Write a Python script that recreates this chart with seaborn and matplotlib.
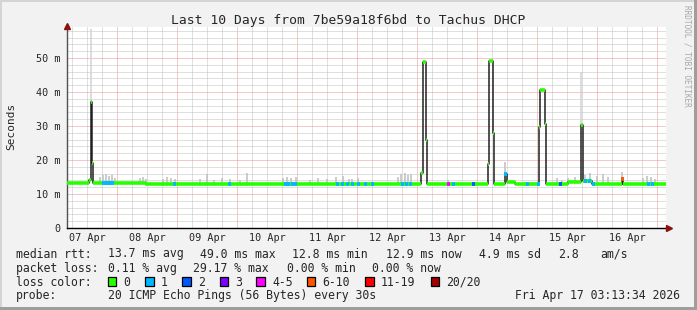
import numpy as np
import pandas as pd
import matplotlib
matplotlib.use("Agg")
import matplotlib.pyplot as plt
import seaborn as sns
from matplotlib.patches import Rectangle

# ---------------- data ----------------
title = "Last 10 Days from 7be59a18f6bd to Tachus DHCP"
day_labels = ["07 Apr", "08 Apr", "09 Apr", "10 Apr", "11 Apr",
              "12 Apr", "13 Apr", "14 Apr", "15 Apr", "16 Apr"]
y_tick_vals = [0, 10, 20, 30, 40, 50]
y_tick_labels = ["0", "10 m", "20 m", "30 m", "40 m", "50 m"]

# median rtt (ms), step series; time = days since 07 Apr 00:00
median_t = [0.16, 0.533, 0.555, 0.583, 0.592, 1.48, 4.10,
            6.067, 6.09, 6.14, 6.155,
            7.172, 7.19, 7.26, 7.278,
            7.467, 7.485, 7.62,
            8.022, 8.038, 8.128, 8.145,
            8.517, 8.728, 8.755, 8.917,
            9.417, 9.433]
median_v = [13.2, 14.0, 37.0, 19.0, 13.2, 12.8, 12.9,
            16.2, 48.9, 26.0, 12.9,
            18.8, 49.0, 28.0, 13.0,
            16.0, 13.4, 12.9,
            29.7, 40.6, 30.6, 12.9,
            13.5, 30.3, 13.8, 12.9,
            14.4, 12.9]
end_t = 10.135

# packet loss events: (time, loss class index)
loss_t = [0.767, 0.817, 0.867, 0.917, 1.95, 2.867, 3.80, 3.85, 3.917, 3.967,
          4.667, 4.75, 4.833, 4.917, 5.017, 5.133, 5.25, 5.75, 5.817, 5.883,
          6.517, 6.60, 6.933, 7.467, 7.833, 8.017, 8.383, 8.80, 8.867, 8.933,
          9.417, 9.85, 9.917]
loss_cls = [1, 1, 1, 1, 1, 1, 1, 1, 1, 1,
            1, 1, 1, 1, 1, 1, 1, 1, 1, 1,
            4, 1, 2, 1, 1, 1, 2, 1, 1, 1,
            5, 1, 1]

# smoke (max ping rtt, ms)
smoke_t = [0.567, 0.717, 0.767, 0.817, 0.867, 0.917, 0.967,
           1.383, 1.433, 1.483, 1.767, 1.833, 1.90, 1.967,
           2.383, 2.50, 2.617, 2.75, 2.883, 3.05, 3.167,
           3.767, 3.833, 3.90, 3.983, 4.217, 4.35, 4.50, 4.65, 4.767, 4.867,
           4.917, 5.017, 5.683, 5.733, 5.80, 5.85, 5.90, 6.517,
           7.467, 8.333, 8.417, 8.517, 8.633, 8.733,
           8.80, 8.883, 9.00, 9.10, 9.183, 9.417,
           9.767, 9.833, 9.90, 9.967]
smoke_top = [58.5, 15.0, 15.5, 15.8, 15.2, 15.6, 14.8,
             14.6, 15.0, 14.5, 14.4, 15.0, 14.8, 14.4,
             14.3, 16.0, 14.2, 14.6, 14.5, 14.0, 16.2,
             14.6, 15.1, 14.7, 15.0, 14.2, 14.8, 14.3, 14.9, 15.2, 14.5,
             14.3, 14.6, 15.0, 15.8, 16.2, 15.5, 15.9, 14.2,
             19.4, 14.6, 14.2, 14.8, 15.0, 46.0,
             15.5, 16.3, 15.2, 15.8, 14.9, 16.5,
             14.8, 15.4, 15.0, 14.5]

loss_labels = ["0", "1", "2", "3", "4-5", "6-10", "11-19", "20/20"]
loss_colors = ["#26ff00", "#00b8ff", "#0059ff", "#7e00ff",
               "#ff00ff", "#ff5500", "#ff0000", "#a10000"]

row1 = ["median rtt:", "13.7 ms avg", "49.0 ms max", "12.8 ms min",
        "12.9 ms now", "4.9 ms sd", "2.8", "am/s"]
row2 = ["packet loss:", "0.11 % avg", "29.17 % max", "0.00 % min", "0.00 % now"]
row3_head = "loss color:"
row4 = ["probe:", "20 ICMP Echo Pings (56 Bytes) every 30s"]
timestamp = "Fri Apr 17 03:13:34 2026"
watermark = "RRDTOOL / TOBI OETIKER"

# ---------------- layout ----------------
W, H = 697, 310
MONO = "DejaVu Sans Mono"
row1_x = [16, 107.6, 200, 292, 385.8, 479, 557.8, 600]
row2_x = [16, 107.6, 193.3, 286.7, 372.4]
row4_x = [16, 107.6]
box_x = [108, 145.3, 182.2, 219.6, 256.4, 306.7, 365.3, 431]
row_base = [257.5, 271.7, 285.7, 299.5]

sns.set_style("white")
plt.rcParams["font.family"] = [MONO, "DejaVu Sans"]

fig = plt.figure(figsize=(W / 100, H / 100), dpi=100, facecolor="#f2f2f2")
ax = fig.add_axes([67 / W, (H - 228) / H, 599 / W, 201 / H])
ax.set_facecolor("white")
ax.set_xlim(0.16, 10.143)
ax.set_ylim(0, 59.1)

# grid
dots = (0, (1, 1))
for xv in np.arange(0.25, 10.2, 0.25):
    major = abs(xv - round(xv)) < 1e-6
    ax.axvline(xv, color="#e89494" if major else "#c0c0c0", lw=0.72, ls=dots, zorder=0.5)
for yv in np.arange(2, 59, 2):
    major = yv % 10 == 0
    ax.axhline(yv, color="#e89494" if major else "#c0c0c0", lw=0.72, ls=dots, zorder=0.5)

mt = np.array(median_t)
mv = np.array(median_v)

def median_at(t):
    idx = np.searchsorted(mt, t, side="right") - 1
    return mv[np.clip(idx, 0, len(mv) - 1)]

# smoke
st = np.array(smoke_t)
sh = np.array(smoke_top)
base = median_at(st)
tall = sh > 25
ax.vlines(st[~tall], base[~tall] - 0.4, sh[~tall], color="#c2c2c2", lw=1.2, zorder=1)
ax.vlines(st[tall], base[tall], sh[tall], color="#d6d6d6", lw=1.2, zorder=1)

# median line (black step) via seaborn
df = pd.DataFrame({"t": list(median_t) + [end_t], "v": list(median_v) + [median_v[-1]]})
sns.lineplot(data=df, x="t", y="v", drawstyle="steps-post", color="#202020",
             lw=1.1, ax=ax, zorder=3, estimator=None, sort=False)

# loss-colour band (0 loss)
tt = df["t"].to_numpy()
vv = df["v"].to_numpy()
ax.hlines(vv[:-1], tt[:-1], tt[1:], color=loss_colors[0], lw=2.6, zorder=4)

# loss events
lt = np.array(loss_t)
lb = median_at(lt)
for t, b, c in zip(lt, lb, loss_cls):
    ax.hlines(b, t - 0.02, t + 0.02, color=loss_colors[c], lw=2.8, zorder=5)

# axes styling
ax.set_xlabel("")
ax.set_ylabel("")
for s in ["top", "right"]:
    ax.spines[s].set_visible(False)
ax.spines["left"].set_color("#505050")
ax.spines["bottom"].set_color("black")
ax.spines["left"].set_linewidth(1.0)
ax.spines["bottom"].set_linewidth(1.0)
ax.spines["bottom"].set_bounds(0.16, 10.2)

ax.set_xticks(np.arange(0.5, 10, 1), labels=day_labels)
ax.set_xticks(np.arange(0.25, 10.2, 0.25), minor=True)
ax.set_yticks(y_tick_vals, labels=y_tick_labels)
ax.set_yticks(np.arange(2, 59, 2), minor=True)
ax.tick_params(axis="x", which="major", length=0, pad=3.5, labelsize=7.3)
ax.tick_params(axis="x", which="minor", length=2, color="#b0b0b0", direction="out")
ax.tick_params(axis="y", which="major", length=2.5, pad=2.5, labelsize=7.3, color="#505050")
ax.tick_params(axis="y", which="minor", length=1.5, color="#b0b0b0")
for lab in ax.get_xticklabels() + ax.get_yticklabels():
    lab.set_family(MONO)

# arrows
ax.plot([10.2], [0], marker=">", color="#8b1010", ms=5, clip_on=False, zorder=6)
ax.plot([0], [1.005], marker="^", color="#8b1010", ms=5, clip_on=False, zorder=6,
        transform=ax.transAxes)

# texts
def ftext(x, y, s, **kw):
    fig.text(x / W, 1 - y / H, s, family=MONO, **kw)

ftext(W / 2, 24, title, fontsize=9.4, ha="center", va="baseline")
ftext(11, 126, "Seconds", fontsize=8, rotation=90, ha="center", va="center")
ftext(687, 5, watermark, fontsize=5.6, rotation=270, ha="center", va="top", color="#a8a8a8")

for s, x in zip(row1, row1_x):
    ftext(x, row_base[0], s, fontsize=8.3, va="baseline")
for s, x in zip(row2, row2_x):
    ftext(x, row_base[1], s, fontsize=8.3, va="baseline")
ftext(16, row_base[2], row3_head, fontsize=8.3, va="baseline")
for lab, col, x in zip(loss_labels, loss_colors, box_x):
    fig.add_artist(Rectangle((x / W, 1 - (row_base[2] + 0.5) / H), 8.4 / W, 9 / H,
                             transform=fig.transFigure, fc=col, ec="black", lw=0.9))
    ftext(x + 15.6, row_base[2], lab, fontsize=8.3, va="baseline")
for s, x in zip(row4, row4_x):
    ftext(x, row_base[3], s, fontsize=8.3, va="baseline")
ftext(680, row_base[3], timestamp, fontsize=8.3, va="baseline", ha="right")

# frame shading
fig.add_artist(Rectangle((0, 1 - 2 / H), 1, 2 / H, transform=fig.transFigure, fc="#d4d4d4", ec="none"))
fig.add_artist(Rectangle((0, 0), 2 / W, 1, transform=fig.transFigure, fc="#d4d4d4", ec="none"))
fig.add_artist(Rectangle((0, 0), 1, 3 / H, transform=fig.transFigure, fc="#9e9e9e", ec="none"))
fig.add_artist(Rectangle((1 - 3 / W, 0), 3 / W, 1, transform=fig.transFigure, fc="#9e9e9e", ec="none"))

fig.savefig("out.png", dpi=100, facecolor=fig.get_facecolor())
